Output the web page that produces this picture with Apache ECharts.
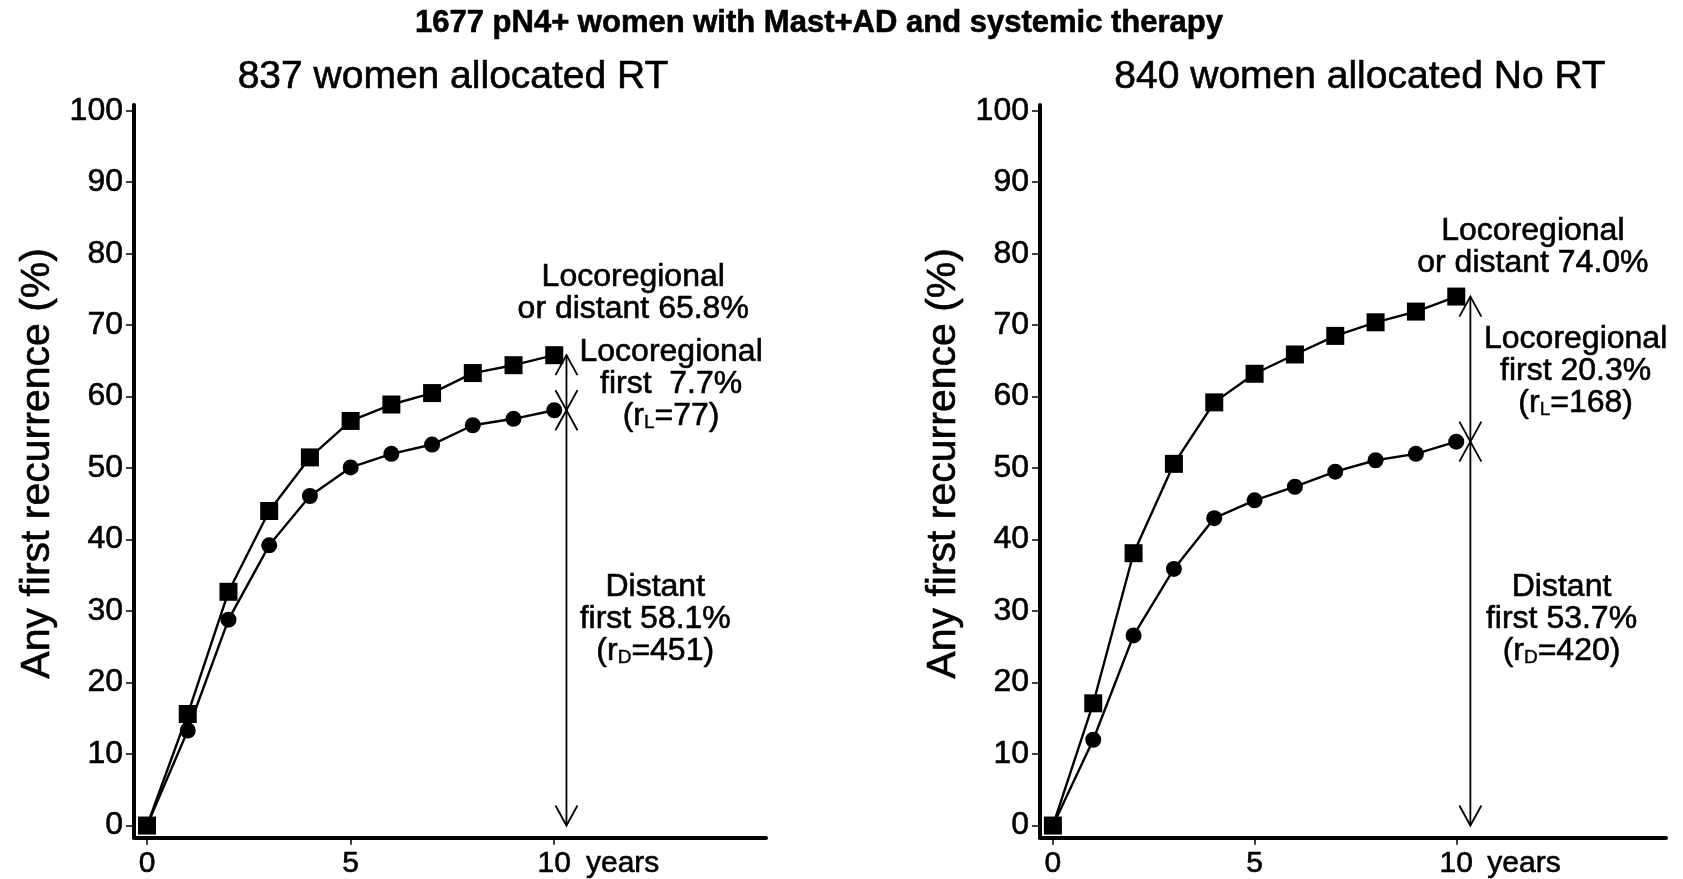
<!DOCTYPE html>
<html>
<head>
<meta charset="utf-8">
<script src="https://cdn.jsdelivr.net/npm/echarts@6/dist/echarts.min.js"></script>
<style>
html,body{margin:0;padding:0;background:#fff;}
#c{width:1683px;height:879px;}
</style>
</head>
<body>
<div id="c"></div>
<script>
// ---- data ----
const years = [0, 1, 2, 3, 4, 5, 6, 7, 8, 9, 10];
const rtAny = [0, 15.6, 32.7, 44.0, 51.5, 56.6, 58.9, 60.5, 63.3, 64.4, 65.8];
const rtDistant = [0, 13.3, 28.8, 39.2, 46.1, 50.1, 52.0, 53.3, 56.0, 56.9, 58.1];
const noRtAny = [0, 17.1, 38.1, 50.6, 59.2, 63.2, 65.9, 68.5, 70.4, 71.9, 74.0];
const noRtDistant = [0, 12.0, 26.6, 35.9, 43.0, 45.5, 47.4, 49.5, 51.1, 52.0, 53.7];
const yTicks = [0, 10, 20, 30, 40, 50, 60, 70, 80, 90, 100];
const xTicks = [0, 5, 10];
const xUnitLabel = 'years';
const mainTitle = '1677 pN4+ women with Mast+AD and systemic therapy';
const panelTitles = ['837 women allocated RT', '840 women allocated No RT'];
const yName = 'Any first recurrence (%)';
// arrow: [x position, 0, distant first, any first]
const rtArrow = [10.3, 0, 58.1, 65.8];
const noRtArrow = [10.35, 0, 53.7, 74.0];
const rtNotes = [
  'Locoregional\nor distant 65.8%',
  'Locoregional\nfirst  7.7%\n(r{s|L}=77)',
  'Distant\nfirst 58.1%\n(r{s|D}=451)'
];
const noRtNotes = [
  'Locoregional\nor distant 74.0%',
  'Locoregional\nfirst 20.3%\n(r{s|L}=168)',
  'Distant\nfirst 53.7%\n(r{s|D}=420)'
];
// annotation anchors in data units (x years, y %)
const rtNoteAnchors = [[11.94, 74.5], [12.87, 61.8], [12.48, 28.9]];
const noRtNoteAnchors = [[11.9, 80.9], [12.96, 63.5], [12.61, 28.9]];

// ---- chart ----
const FONT = "'Liberation Sans', Arial, Helvetica, sans-serif";
const INK = {color: '#000', textBorderColor: '#000', textBorderWidth: 0.6};
const chart = echarts.init(document.getElementById('c'), null, {renderer: 'canvas'});

function pairs(ys) { return years.map((x, i) => [x, ys[i]]); }

function xAxis(gi) {
  return {
    type: 'value', gridIndex: gi, min: -0.32, max: 15.2,
    splitLine: {show: false},
    axisLine: {show: true, onZero: false, lineStyle: {color: '#000', width: 4}},
    axisTick: {show: true, customValues: xTicks, length: 7, lineStyle: {color: '#000', width: 1.5}},
    axisLabel: Object.assign({
      show: true, customValues: xTicks.concat([11.68]), margin: 11,
      fontFamily: FONT, fontSize: 30,
      formatter: v => (v === 11.68 ? xUnitLabel : String(v))
    }, INK)
  };
}
function yAxis(gi) {
  return {
    type: 'value', gridIndex: gi, min: -1.7, max: 100.8,
    splitLine: {show: false},
    name: yName, nameLocation: 'middle', nameGap: 76, nameRotate: 90,
    nameTextStyle: Object.assign({fontFamily: FONT, fontSize: 41, padding: [0, 0, 0, 16]}, INK),
    axisLine: {show: true, onZero: false, lineStyle: {color: '#000', width: 4}},
    axisTick: {show: true, customValues: yTicks, length: 8, lineStyle: {color: '#000', width: 1.5}},
    axisLabel: Object.assign({
      show: true, customValues: yTicks, margin: 11,
      fontFamily: FONT, fontSize: 32
    }, INK)
  };
}

function lineSeries(gi, ys, symbol, z) {
  return {
    type: 'line', xAxisIndex: gi, yAxisIndex: gi, data: pairs(ys),
    symbol: symbol, symbolSize: symbol === 'rect' ? 18 : 16,
    showSymbol: true, z: z, silent: true, animation: false,
    lineStyle: {color: '#000', width: 2.4},
    itemStyle: {color: '#000', borderWidth: 0}
  };
}

function chevron(tip, dir) {
  // dir = -1 : pointing up (arms below), +1 : pointing down (arms above)
  const w = 11, h = 20;
  return {
    type: 'polyline',
    shape: {points: [[tip[0] - w, tip[1] - dir * h], tip, [tip[0] + w, tip[1] - dir * h]]},
    style: {stroke: '#000', lineWidth: 1.8, fill: null}
  };
}

function arrowSeries(gi, arr) {
  return {
    type: 'custom', xAxisIndex: gi, yAxisIndex: gi, data: [arr], clip: false, silent: true,
    animation: false, z: 5,
    encode: {x: 0, y: [1, 2, 3]},
    renderItem: (params, api) => {
      const x = api.value(0);
      const pLo = api.coord([x, api.value(1)]);
      const pMid = api.coord([x, api.value(2)]);
      const pHi = api.coord([x, api.value(3)]);
      return {
        type: 'group',
        children: [
          {type: 'line', shape: {x1: pLo[0], y1: pLo[1], x2: pHi[0], y2: pHi[1]},
           style: {stroke: '#000', lineWidth: 1.8}},
          chevron(pLo, 1),
          chevron(pMid, -1),
          chevron(pMid, 1),
          chevron(pHi, -1)
        ]
      };
    }
  };
}

function notesSeries(gi, anchors, texts) {
  return {
    type: 'custom', xAxisIndex: gi, yAxisIndex: gi, data: anchors, clip: false, silent: true,
    animation: false, z: 6,
    renderItem: (params, api) => {
      const p = api.coord([api.value(0), api.value(1)]);
      return {
        type: 'text', x: p[0], y: p[1],
        style: {
          text: texts[params.dataIndex],
          fill: '#000', stroke: '#000', lineWidth: 0.6,
          fontFamily: FONT, fontSize: 32, lineHeight: 32,
          align: 'center', verticalAlign: 'middle',
          rich: {s: {fontFamily: FONT, fontSize: 19, fill: '#000', stroke: '#000', lineWidth: 0.4,
                     verticalAlign: 'bottom', lineHeight: 32}}
        }
      };
    }
  };
}

chart.setOption({
  backgroundColor: '#fff',
  animation: false,
  title: [
    {text: mainTitle, left: 814, top: 3, textAlign: 'center',
     textStyle: Object.assign({fontFamily: FONT, fontWeight: 'bold', fontSize: 31}, INK)},
    {text: panelTitles[0], left: 448, top: 53, textAlign: 'center',
     textStyle: Object.assign({fontFamily: FONT, fontWeight: 'normal', fontSize: 39}, INK)},
    {text: panelTitles[1], left: 1355, top: 53, textAlign: 'center',
     textStyle: Object.assign({fontFamily: FONT, fontWeight: 'normal', fontSize: 39}, INK)}
  ],
  grid: [
    {left: 134, top: 105, width: 632, height: 735, containLabel: false},
    {left: 1040, top: 105, width: 626, height: 735, containLabel: false}
  ],
  xAxis: [xAxis(0), xAxis(1)],
  yAxis: [yAxis(0), yAxis(1)],
  series: [
    lineSeries(0, rtDistant, 'circle', 3),
    lineSeries(0, rtAny, 'rect', 4),
    lineSeries(1, noRtDistant, 'circle', 3),
    lineSeries(1, noRtAny, 'rect', 4),
    arrowSeries(0, rtArrow),
    arrowSeries(1, noRtArrow),
    notesSeries(0, rtNoteAnchors, rtNotes),
    notesSeries(1, noRtNoteAnchors, noRtNotes)
  ]
});
</script>
</body>
</html>
